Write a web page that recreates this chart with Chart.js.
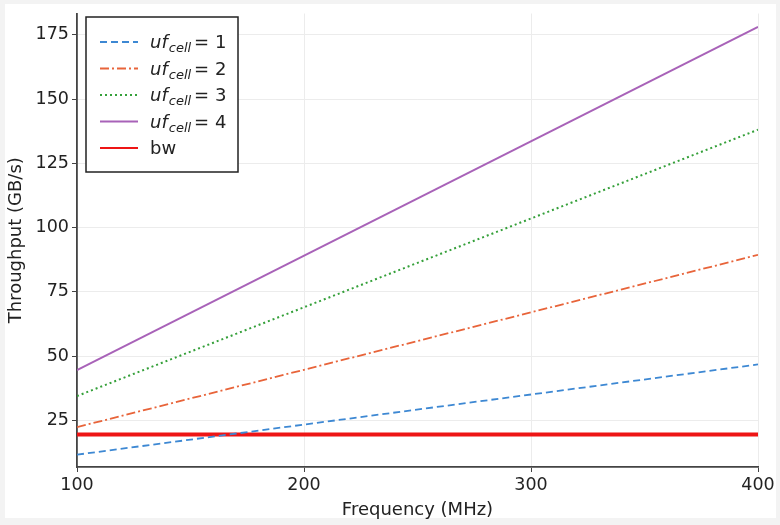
<!DOCTYPE html>
<html>
<head>
<meta charset="utf-8">
<script src="https://cdn.jsdelivr.net/npm/chart.js@4.4.1/dist/chart.umd.min.js"></script>
<style>
  html, body { margin: 0; padding: 0; background: #f3f3f3; }
  #frame { position: absolute; left: 5px; top: 4px; width: 771px; height: 514px; background: #fff; }
  #wrap { position: absolute; left: 0; top: 0; width: 780px; height: 525px; }
</style>
</head>
<body>
<div id="frame"></div>
<div id="wrap"><canvas id="chart" width="780" height="525"></canvas></div>
<script>
// valores
const frequencies = [100, 400];
const uf1 = [11.7, 46.8];
const uf2 = [22.4, 89.4];
const uf3 = [34.5, 138.1];
const uf4 = [44.6, 178.1];
const bw = [19.5, 19.5];
const xTicks = [100, 200, 300, 400];
const yTicks = [25, 50, 75, 100, 125, 150, 175];

const FONT = 'DejaVu Sans';

function pts(values) {
    return frequencies.map((f, i) => ({ x: f, y: values[i] }));
}

const series = [
    { n: '1', data: uf1, color: '#3d88d3', dash: [7, 4], width: 1.8 },
    { n: '2', data: uf2, color: '#e8643a', dash: [9, 3, 2, 3], width: 1.8 },
    { n: '3', data: uf3, color: '#35a03a', dash: [2, 3], width: 2 },
    { n: '4', data: uf4, color: '#a862b8', dash: [], width: 1.8 },
];

const datasets = series.map(s => ({
    label: 'uf_cell = ' + s.n,
    ufIndex: s.n,
    data: pts(s.data),
    borderColor: s.color,
    borderDash: s.dash,
    borderWidth: s.width,
    pointRadius: 0,
    fill: false
}));
datasets.push({
    label: 'bw',
    data: pts(bw),
    borderColor: '#ee1515',
    borderWidth: 4,
    pointRadius: 0,
    fill: false
});

// legenda desenhada à mão por causa do subscrito
const legendPlugin = {
    id: 'subLegend',
    afterDraw(chart) {
        const ctx = chart.ctx;
        const x0 = 86, y0 = 17, w = 152, h = 155;
        ctx.save();
        ctx.fillStyle = '#fff';
        ctx.fillRect(x0, y0, w, h);
        ctx.strokeStyle = '#222';
        ctx.lineWidth = 1.5;
        ctx.strokeRect(x0, y0, w, h);
        chart.data.datasets.forEach((ds, i) => {
            const y = y0 + 25 + i * 26.5;
            ctx.beginPath();
            ctx.setLineDash(ds.borderDash || []);
            ctx.strokeStyle = ds.borderColor;
            ctx.lineWidth = ds.label === 'bw' ? 2 : Math.max(ds.borderWidth, 2);
            ctx.moveTo(x0 + 14, y);
            ctx.lineTo(x0 + 52, y);
            ctx.stroke();
            ctx.setLineDash([]);
            ctx.fillStyle = '#222';
            ctx.textBaseline = 'alphabetic';
            let tx = x0 + 64;
            const by = y + 6;
            if (ds.ufIndex) {
                ctx.font = 'italic 18px ' + FONT;
                ctx.fillText('uf', tx, by);
                tx += ctx.measureText('uf').width + 1;
                ctx.font = 'italic 13px ' + FONT;
                ctx.fillText('cell', tx, by + 4);
                tx += ctx.measureText('cell').width + 3;
                ctx.font = '18px ' + FONT;
                ctx.fillText('= ' + ds.ufIndex, tx, by);
            } else {
                ctx.font = '18px ' + FONT;
                ctx.fillText(ds.label, tx, by);
            }
        });
        ctx.restore();
    }
};

const ctx = document.getElementById('chart').getContext('2d');
new Chart(ctx, {
    type: 'line',
    data: { datasets: datasets },
    options: {
        responsive: false,
        animation: false,
        layout: { padding: { left: 0, right: 22, top: 9, bottom: 0 } },
        plugins: {
            legend: { display: false },
            tooltip: { enabled: false }
        },
        scales: {
            x: {
                type: 'linear',
                min: 100,
                max: 400,
                afterBuildTicks: axis => { axis.ticks = xTicks.map(v => ({ value: v })); },
                afterFit: axis => { axis.height = 58; },
                grid: { color: '#ececec', tickColor: '#444', tickLength: 5, lineWidth: 1 },
                border: { color: '#444', width: 1.8 },
                ticks: { color: '#222', font: { family: FONT, size: 17.5 }, padding: 3, maxRotation: 0 },
                title: { display: true, text: 'Frequency (MHz)', color: '#222', font: { family: FONT, size: 18 }, padding: { top: 2 } }
            },
            y: {
                min: 6.9,
                max: 183.3,
                afterBuildTicks: axis => { axis.ticks = yTicks.map(v => ({ value: v })); },
                afterFit: axis => { axis.width = 77; },
                grid: { color: '#ececec', tickColor: '#444', tickLength: 5, lineWidth: 1 },
                border: { color: '#444', width: 1.8 },
                ticks: { color: '#222', font: { family: FONT, size: 17.5 }, padding: 3 },
                title: { display: true, text: 'Throughput (GB/s)', color: '#222', font: { family: FONT, size: 18 }, padding: { top: 6, bottom: 0 } }
            }
        }
    },
    plugins: [legendPlugin]
});
</script>
</body>
</html>
